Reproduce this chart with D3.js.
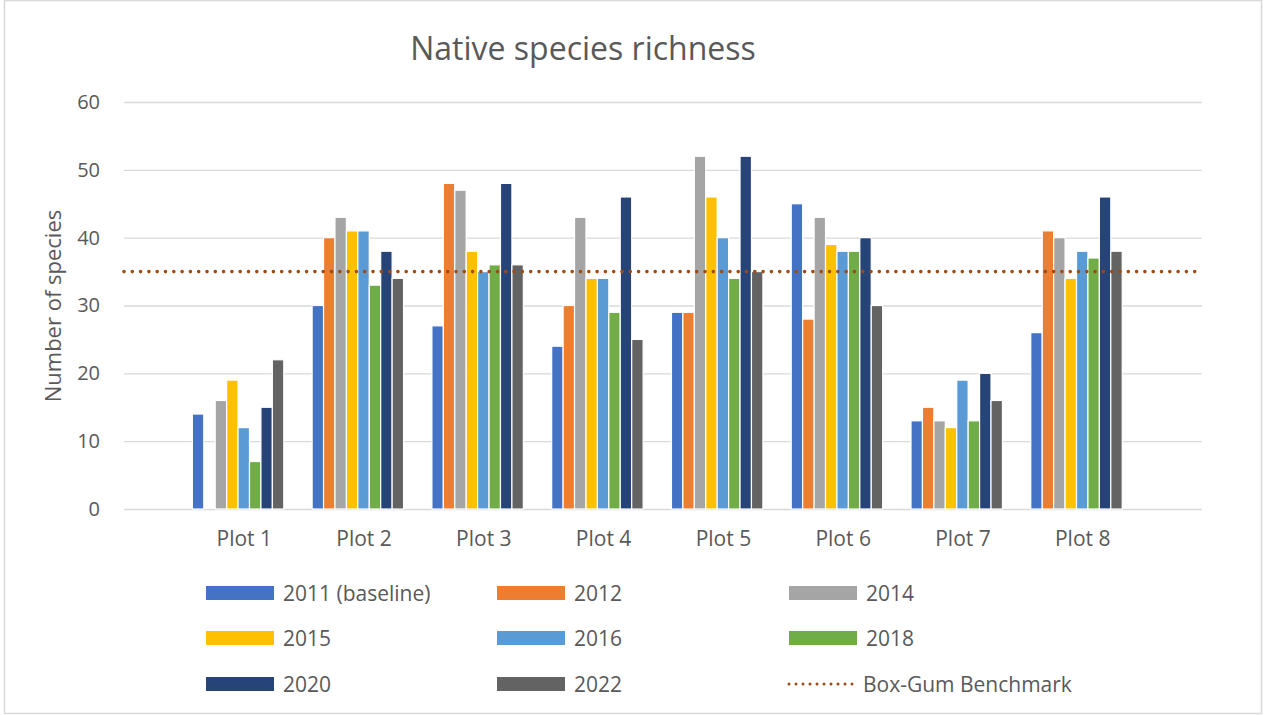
<!DOCTYPE html>
<html>
<head>
<meta charset="utf-8">
<script src="https://cdn.jsdelivr.net/npm/d3@7/dist/d3.min.js"></script>
<style>
  html, body { margin: 0; padding: 0; background: #fff; }
  svg { display: block; font-family: "Open Sans", "Noto Sans", sans-serif; }
</style>
</head>
<body>
<svg id="chart" width="1266" height="715"></svg>
<script>
// Plots surveyed (blank slots pad each end of the category axis)
const plots = ["Plot 1", "Plot 2", "Plot 3", "Plot 4", "Plot 5", "Plot 6", "Plot 7", "Plot 8"];

// Survey years and their colours
const years = ["2011 (baseline)", "2012", "2014", "2015", "2016", "2018", "2020", "2022"];
const yearColors = ["#4472C4", "#ED7D31", "#A5A5A5", "#FFC000", "#5B9BD5", "#70AD47", "#264478", "#636363"];

// Native species counts per plot, one array per survey year (null = not surveyed)
const y2011 = [14, 30, 27, 24, 29, 45, 13, 26];
const y2012 = [null, 40, 48, 30, 29, 28, 15, 41];
const y2014 = [16, 43, 47, 43, 52, 43, 13, 40];
const y2015 = [19, 41, 38, 34, 46, 39, 12, 34];
const y2016 = [12, 41, 35, 34, 40, 38, 19, 38];
const y2018 = [7, 33, 36, 29, 34, 38, 13, 37];
const y2020 = [15, 38, 48, 46, 52, 40, 20, 46];
const y2022 = [22, 34, 36, 25, 35, 30, 16, 38];
const seriesValues = [y2011, y2012, y2014, y2015, y2016, y2018, y2020, y2022];

// Box-Gum woodland benchmark for native species richness
const benchmark = 35;
const benchmarkLabel = "Box-Gum Benchmark";

const yTicks = [0, 10, 20, 30, 40, 50, 60];

const svg = d3.select("#chart");
const plotLeft = 124, plotRight = 1202, plotTop = 102, plotBottom = 509;
const textColor = "#595959";
const gridColor = "#D9D9D9";

// chart frame
svg.append("rect")
  .attr("x", 4.5).attr("y", 0.5)
  .attr("width", 1257).attr("height", 713)
  .attr("fill", "#fff").attr("stroke", gridColor).attr("stroke-width", 1.5);

// scales
const catDomain = ["_start", ...plots, "_end"];
const x0 = d3.scalePoint().domain(catDomain).range([plotLeft, plotRight]);
const slot = 11.43;
const nSlots = years.length + 1; // one trailing empty slot per cluster
const x1 = d3.scaleBand().domain(d3.range(nSlots)).range([-slot * nSlots / 2, slot * nSlots / 2]).padding(0);
const y = d3.scaleLinear().domain([0, 60]).range([plotBottom, plotTop]);

// gridlines and value axis labels
const yAxis = d3.axisLeft(y).tickValues(yTicks).tickSize(-(plotRight - plotLeft)).tickPadding(24);
const gY = svg.append("g").attr("transform", `translate(${plotLeft},0)`).call(yAxis);
gY.select(".domain").remove();
gY.selectAll(".tick line").attr("stroke", gridColor).attr("stroke-width", 1.4);
gY.selectAll(".tick text")
  .attr("fill", textColor)
  .style("font-size", "20px")
  .style("font-family", "'Open Sans', sans-serif");

// category axis labels
const xAxis = d3.axisBottom(x0).tickValues(plots).tickSize(0).tickPadding(22);
const gX = svg.append("g").attr("transform", `translate(0,${plotBottom})`).call(xAxis);
gX.select(".domain").remove();
gX.selectAll(".tick text")
  .attr("fill", textColor)
  .style("font-size", "21px")
  .style("font-family", "'Open Sans', sans-serif");

// bars
const barData = [];
seriesValues.forEach((vals, si) => {
  vals.forEach((v, pi) => {
    if (v != null) barData.push({ plot: plots[pi], series: si, value: v });
  });
});
svg.append("g").selectAll("rect")
  .data(barData)
  .join("rect")
  .attr("x", d => x0(d.plot) + x1(d.series))
  .attr("y", d => y(d.value))
  .attr("width", x1.bandwidth())
  .attr("height", d => y(0) - y(d.value))
  .attr("fill", d => yearColors[d.series])
  .attr("stroke", "#fff")
  .attr("stroke-width", 1.2);

// benchmark line
const benchColor = "#9E4A12";
svg.append("line")
  .attr("x1", plotLeft).attr("x2", plotRight)
  .attr("y1", y(benchmark)).attr("y2", y(benchmark))
  .attr("stroke", benchColor)
  .attr("stroke-width", 3.6)
  .attr("stroke-linecap", "round")
  .attr("stroke-dasharray", "0 8.3");

// title
svg.append("text")
  .attr("x", 583).attr("y", 60)
  .attr("text-anchor", "middle")
  .attr("fill", textColor)
  .style("font-size", "32px")
  .text("Native species richness");

// y-axis title
svg.append("text")
  .attr("transform", "translate(61,306) rotate(-90)")
  .attr("text-anchor", "middle")
  .attr("fill", textColor)
  .style("font-size", "22px")
  .text("Number of species");

// legend
const legendCols = [206, 497, 789];
const legendRows = [593, 638, 684];
const legendItems = years.map((name, i) => ({ name, color: yearColors[i], type: "bar" }));
legendItems.push({ name: benchmarkLabel, color: benchColor, type: "line" });
const lg = svg.append("g").selectAll("g")
  .data(legendItems)
  .join("g")
  .attr("transform", (d, i) => `translate(${legendCols[i % 3]},${legendRows[Math.floor(i / 3)]})`);
lg.filter(d => d.type === "bar").append("rect")
  .attr("x", 0).attr("y", -7).attr("width", 68).attr("height", 14)
  .attr("fill", d => d.color);
lg.filter(d => d.type === "line").append("line")
  .attr("x1", 0).attr("x2", 68).attr("y1", 0).attr("y2", 0)
  .attr("stroke", d => d.color)
  .attr("stroke-width", 3)
  .attr("stroke-linecap", "round")
  .attr("stroke-dasharray", "0 7");
lg.append("text")
  .attr("x", d => d.type === "bar" ? 77 : 74)
  .attr("y", 1)
  .attr("dy", "0.35em")
  .attr("fill", textColor)
  .style("font-size", "21px")
  .text(d => d.name);
</script>
</body>
</html>
